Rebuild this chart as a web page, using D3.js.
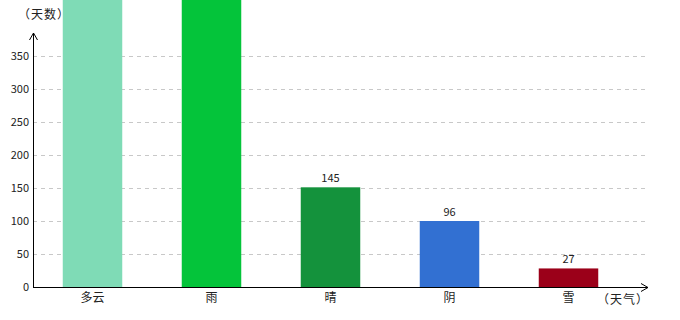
<!DOCTYPE html>
<html>
<head>
<meta charset="utf-8">
<script src="https://cdn.jsdelivr.net/npm/d3@7"></script>
<style>
  body { margin: 0; background: #fff; }
  text { font-family: "Noto Sans CJK SC", "DejaVu Sans", sans-serif; }
</style>
</head>
<body>
<script>
// data
let categories = ["多云", "雨", "晴", "阴", "雪"];
let values = [520, 480, 145, 96, 27];
let colors = ["#7fdbb6", "#04c43a", "#14923c", "#3270d2", "#9b0019"];
let yTicks = [0, 50, 100, 150, 200, 250, 300, 350];

let width = 680;
let height = 320;
let left = 33, bottom = 287;

let svg = d3.select("body").append("svg")
    .attr("width", width)
    .attr("height", height);

let y = d3.scaleLinear()
    .domain([0, 350])
    .range([bottom, 56]);

// bars are drawn a touch taller than the tick scale, as in the original
let yBar = d3.scaleLinear()
    .domain([0, 400])
    .range([bottom, bottom - 275]);

let x = d3.scaleBand()
    .domain(categories)
    .range([left, left + 119 * 5])
    .paddingInner(0.5)
    .paddingOuter(0.25);

// grid
svg.selectAll(".grid")
    .data(yTicks.slice(1))
    .join("line")
    .attr("class", "grid")
    .attr("x1", left)
    .attr("x2", 648)
    .attr("y1", d => Math.round(y(d)) + 0.5)
    .attr("y2", d => Math.round(y(d)) + 0.5)
    .attr("stroke", "#c8c8c8")
    .attr("stroke-dasharray", "4,4");

// bars
svg.selectAll(".bar")
    .data(values)
    .join("rect")
    .attr("class", "bar")
    .attr("x", (d, i) => x(categories[i]))
    .attr("width", x.bandwidth())
    .attr("y", d => Math.max(0, yBar(d)))
    .attr("height", d => bottom - Math.max(0, yBar(d)))
    .attr("fill", (d, i) => colors[i]);

// value labels (those above the top edge are not visible)
svg.selectAll(".vlabel")
    .data(values.filter(d => yBar(d) > 20))
    .join("text")
    .attr("class", "vlabel")
    .attr("x", d => x(categories[values.indexOf(d)]) + x.bandwidth() / 2)
    .attr("y", d => yBar(d) - 5)
    .attr("text-anchor", "middle")
    .attr("font-size", 11)
    .attr("fill", "#222")
    .text(d => d);

// y tick labels
svg.selectAll(".ytick")
    .data(yTicks)
    .join("text")
    .attr("class", "ytick")
    .attr("x", 29)
    .attr("y", d => y(d) + 4)
    .attr("text-anchor", "end")
    .attr("font-size", 11)
    .attr("fill", "#222")
    .text(d => d);

// x labels
svg.selectAll(".xlabel")
    .data(categories)
    .join("text")
    .attr("class", "xlabel")
    .attr("x", d => x(d) + x.bandwidth() / 2)
    .attr("y", 302)
    .attr("text-anchor", "middle")
    .attr("font-size", 12)
    .attr("fill", "#222")
    .text(d => d);

// axes with arrows
svg.append("line")
    .attr("x1", left + 0.5).attr("x2", left + 0.5)
    .attr("y1", bottom).attr("y2", 33)
    .attr("stroke", "#000");
svg.append("path")
    .attr("d", `M${left - 3.5},${40} L${left + 0.5},${33} L${left + 4.5},${40}`)
    .attr("fill", "none").attr("stroke", "#000");

svg.append("line")
    .attr("x1", left).attr("x2", 648)
    .attr("y1", bottom + 0.5).attr("y2", bottom + 0.5)
    .attr("stroke", "#000");
svg.append("path")
    .attr("d", `M641,${bottom - 3.5} L648,${bottom + 0.5} L641,${bottom + 4.5}`)
    .attr("fill", "none").attr("stroke", "#000");

// axis titles
svg.append("text")
    .attr("x", 18).attr("y", 19)
    .attr("font-size", 12).attr("fill", "#222")
    .attr("letter-spacing", 1)
    .text("（天数）");
svg.append("text")
    .attr("x", 597).attr("y", 304)
    .attr("font-size", 12).attr("fill", "#222")
    .attr("letter-spacing", 1)
    .text("（天气）");
</script>
</body>
</html>
